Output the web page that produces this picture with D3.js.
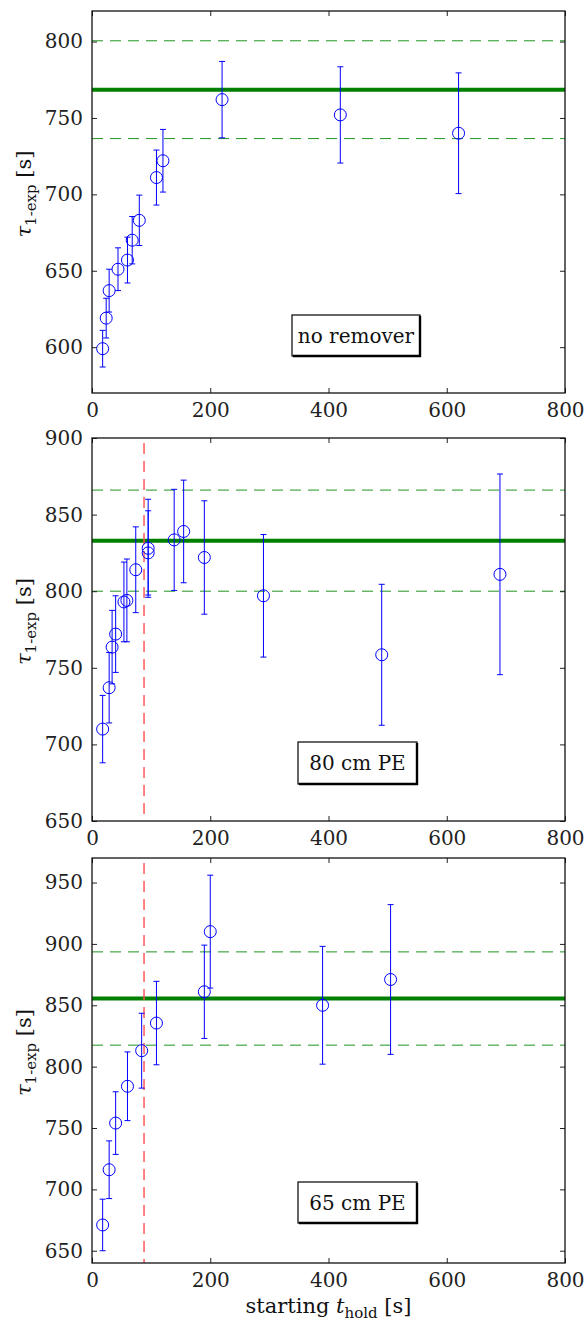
<!DOCTYPE html>
<html>
<head>
<meta charset="utf-8">
<script src="https://cdn.jsdelivr.net/npm/d3@7"></script>
<style>
  body { margin: 0; background: #fff; }
  svg { display: block; }
</style>
</head>
<body>
<svg id="chart" width="586" height="1322"></svg>
<script>
// x ticks shared by all three panels
const xTicks = [0, 200, 400, 600, 800];

// panel 1: no remover
const tHold1 = [18, 24, 29, 44, 60, 68, 80, 109, 120, 220, 420, 620];
const tau1 = [599, 619, 637, 651, 657, 670, 683, 711, 722, 762, 752, 740];
const err1 = [12, 13, 14, 14, 15, 15.5, 16.5, 18, 20.5, 25, 31.5, 39.5];
const yTicks1 = [600, 650, 700, 750, 800];

// panel 2: 80 cm PE
const tHold2 = [18, 29, 34, 40, 54, 59, 74, 95, 95, 139, 155, 190, 290, 490, 690];
const tau2 = [710, 737, 763.5, 772, 793, 794, 814, 828, 825, 833.5, 839, 822, 797, 758.5, 811];
const err2 = [22, 23, 24, 25, 26, 27, 28, 32, 27.5, 33, 33.5, 37, 40, 46, 65.5];
const yTicks2 = [650, 700, 750, 800, 850, 900];

// panel 3: 65 cm PE
const tHold3 = [18, 29, 40, 60, 84, 109, 190, 200, 390, 505];
const tau3 = [671, 716, 754, 784, 813, 835.5, 861, 910, 850, 871];
const err3 = [21, 23.5, 25.5, 28, 30.5, 34, 38, 46, 48, 61];
const yTicks3 = [650, 700, 750, 800, 850, 900, 950];

// weighted means and their bands
const means = [768.5, 833, 855.5];
const bands = [32, 33, 38];
// start of fit window (red dashed), none in panel 1
const cuts = [null, 88, 88];
const labels = ["no remover", "80 cm PE", "65 cm PE"];

const FONT = "DejaVu Serif";
const svg = d3.select("#chart");
const left = 92, right = 565;
const x = d3.scaleLinear().domain([0, 800]).range([left, right]);

const panels = [
  { top: 11, bottom: 393, yDomain: [570, 820], yTicks: yTicks1, t: tHold1, tau: tau1, err: err1,
    box: { x: 292, y: 315, w: 128, h: 41 } },
  { top: 438, bottom: 821, yDomain: [650, 900], yTicks: yTicks2, t: tHold2, tau: tau2, err: err2,
    box: { x: 298, y: 742, w: 119, h: 42 } },
  { top: 858, bottom: 1263, yDomain: [640, 970], yTicks: yTicks3, t: tHold3, tau: tau3, err: err3,
    box: { x: 298, y: 1182, w: 119, h: 41 } }
];

panels.forEach((p, i) => {
  const y = d3.scaleLinear().domain(p.yDomain).range([p.bottom, p.top]);
  const g = svg.append("g");
  const pts = p.t.map((t, k) => ({ t: t, v: p.tau[k], e: p.err[k] }));

  // band lines
  g.selectAll(".band")
    .data([means[i] - bands[i], means[i] + bands[i]])
    .join("line")
    .attr("x1", left).attr("x2", right)
    .attr("y1", (d) => y(d)).attr("y2", (d) => y(d))
    .attr("stroke", "#1f951f").attr("stroke-width", 1)
    .attr("stroke-dasharray", "11,7");

  g.append("line")
    .attr("x1", left).attr("x2", right)
    .attr("y1", y(means[i])).attr("y2", y(means[i]))
    .attr("stroke", "#008000").attr("stroke-width", 4);

  if (cuts[i] !== null) {
    g.append("line")
      .attr("x1", x(cuts[i])).attr("x2", x(cuts[i]))
      .attr("y1", p.top + 5).attr("y2", p.bottom)
      .attr("stroke", "#ff4d4d").attr("stroke-width", 1.4)
      .attr("stroke-dasharray", "11,7");
  }

  // error bars
  const eb = g.selectAll(".eb").data(pts).join("g").attr("class", "eb")
    .attr("stroke", "#0000ff").attr("stroke-width", 1).attr("fill", "none");
  eb.append("line")
    .attr("x1", (d) => x(d.t)).attr("x2", (d) => x(d.t))
    .attr("y1", (d) => y(d.v - d.e)).attr("y2", (d) => y(d.v + d.e));
  eb.append("line")
    .attr("x1", (d) => x(d.t) - 3).attr("x2", (d) => x(d.t) + 3)
    .attr("y1", (d) => y(d.v + d.e)).attr("y2", (d) => y(d.v + d.e));
  eb.append("line")
    .attr("x1", (d) => x(d.t) - 3).attr("x2", (d) => x(d.t) + 3)
    .attr("y1", (d) => y(d.v - d.e)).attr("y2", (d) => y(d.v - d.e));
  eb.append("circle")
    .attr("cx", (d) => x(d.t)).attr("cy", (d) => y(d.v)).attr("r", 6);

  // axes, ticks pointing inward on all four sides
  const axL = g.append("g").attr("transform", `translate(${left},0)`)
    .call(d3.axisLeft(y).tickValues(p.yTicks).tickSize(-5).tickSizeOuter(0).tickPadding(9));
  const axR = g.append("g").attr("transform", `translate(${right},0)`)
    .call(d3.axisRight(y).tickValues(p.yTicks).tickSize(-5).tickSizeOuter(0).tickFormat(""));
  const axB = g.append("g").attr("transform", `translate(0,${p.bottom})`)
    .call(d3.axisBottom(x).tickValues(xTicks).tickSize(-5).tickSizeOuter(0).tickPadding(10));
  const axT = g.append("g").attr("transform", `translate(0,${p.top})`)
    .call(d3.axisTop(x).tickValues(xTicks).tickSize(-5).tickSizeOuter(0).tickFormat(""));
  [axL, axR, axB, axT].forEach((a) => {
    a.select(".domain").remove();
    a.selectAll("line").attr("stroke", "#222").attr("stroke-width", 1);
    a.selectAll("text").attr("font-family", FONT).attr("font-size", 20).attr("fill", "#222");
  });
  axB.selectAll("text").attr("dy", "0.71em");

  g.append("rect")
    .attr("x", left).attr("y", p.top)
    .attr("width", right - left).attr("height", p.bottom - p.top)
    .attr("fill", "none").attr("stroke", "#111").attr("stroke-width", 1.3);

  // legend box
  const b = p.box;
  g.append("rect").attr("x", b.x).attr("y", b.y).attr("width", b.w).attr("height", b.h)
    .attr("fill", "#fff").attr("stroke", "#000").attr("stroke-width", 1.2);
  g.append("path")
    .attr("d", `M${b.x + b.w},${b.y + 1}V${b.y + b.h}H${b.x + 1}`)
    .attr("fill", "none").attr("stroke", "#000").attr("stroke-width", 2.4);
  g.append("text")
    .attr("x", b.x + b.w / 2).attr("y", b.y + b.h / 2 + 7)
    .attr("text-anchor", "middle")
    .attr("font-family", FONT).attr("font-size", 20).attr("fill", "#111")
    .text(labels[i]);

  // y label
  const yl = g.append("text")
    .attr("transform", `translate(31,${(p.top + p.bottom) / 2 - 8}) rotate(-90)`)
    .attr("text-anchor", "middle")
    .attr("font-family", FONT).attr("font-size", 21).attr("fill", "#111");
  yl.append("tspan").attr("font-style", "italic").text("τ");
  yl.append("tspan").attr("font-size", 15).attr("dy", 5).text("1-exp");
  yl.append("tspan").attr("dy", -5).text(" [s]");
});

// x label
const xl = svg.append("text")
  .attr("x", (left + right) / 2).attr("y", 1313)
  .attr("text-anchor", "middle")
  .attr("font-family", FONT).attr("font-size", 21).attr("fill", "#111");
xl.append("tspan").text("starting ");
xl.append("tspan").attr("font-style", "italic").text("t");
xl.append("tspan").attr("font-size", 15).attr("dy", 5).text("hold");
xl.append("tspan").attr("dy", -5).text(" [s]");
</script>
</body>
</html>
